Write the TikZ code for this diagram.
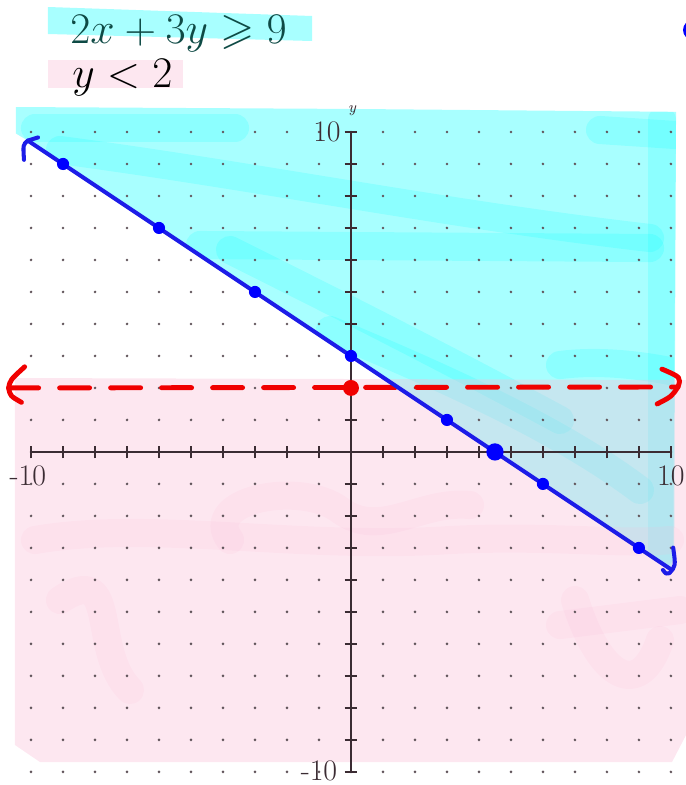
\documentclass[tikz,border=0pt]{standalone}
\usepackage{amssymb}
\usepackage{tikz}
\usetikzlibrary{calc}
\definecolor{hlcyan}{RGB}{0,255,255}
\definecolor{hlpink}{RGB}{250,188,214}
\definecolor{axgray}{HTML}{3B2C33}
\definecolor{ink}{HTML}{0E4A45}
\definecolor{penblue}{RGB}{28,28,232}
\definecolor{penred}{RGB}{240,0,0}

\begin{document}
\begin{tikzpicture}[x=0.64cm,y=0.64cm,
  ax/.style={draw=axgray,line width=1.6pt},
  tk/.style={draw=axgray,line width=1.3pt},
  gdot/.style={fill=axgray!80},
  lbl/.style={font=\fontsize{17}{19}\selectfont,text=axgray,inner sep=0pt},
  bl/.style={draw=penblue,line width=2.3pt,line cap=round,line join=round},
  bdot/.style={fill=blue},
  rd/.style={draw=penred,line width=2.8pt,line cap=round,line join=round},
  cstroke/.style={draw=hlcyan,opacity=0.17,line width=16pt,line cap=round,line join=round},
  pstroke/.style={draw=hlpink,opacity=0.15,line width=16pt,line cap=round,line join=round}]
  \clip (-10.97,-10.41) rectangle (10.47,14.125);
  % shaded regions
  \fill[hlcyan,opacity=0.34] (-10.47,10.78) -- (0,10.72) -- (10.16,10.63) -- (10.1,-3.2) -- (10,-3.67) -- (-10.1,9.73) -- (-10.47,9.95) -- cycle;
  \begin{scope}[shift={(-10.97,14.125)},x=0.02cm,y=-0.02cm]
    % marker strokes (cyan)
    \begin{scope}
      \clip (16,107) -- (676,112) -- (673,560) -- (668,567) -- (28,141) -- (16,136) -- cycle;
      \draw[cstroke] (35,128) -- (235,128);
      \draw[cstroke] (60,150) .. controls (250,175) and (450,215) .. (650,238);
      \draw[cstroke] (200,245) -- (650,248);
      \draw[cstroke] (230,250) .. controls (330,300) and (430,350) .. (560,420);
      \draw[cstroke] (330,330) .. controls (450,380) and (560,430) .. (640,490);
      \draw[cstroke] (662,120) -- (662,555);
      \draw[cstroke] (560,365) .. controls (600,360) and (640,365) .. (675,372);
      \draw[cstroke] (600,130) -- (675,135);
    \end{scope}
    % pink region and strokes
    \fill[hlpink,opacity=0.36] (15,378) -- (686,380) -- (686,735) -- (672,762) -- (40,762) -- (15,745) -- cycle;
    \draw[pstroke] (35,540) .. controls (150,520) and (300,550) .. (450,540) .. controls (550,535) and (620,545) .. (670,540);
    \draw[pstroke] (230,540) .. controls (200,500) and (300,480) .. (340,510) .. controls (380,540) and (420,500) .. (470,505);
    \draw[pstroke] (60,600) .. controls (120,560) and (90,650) .. (130,690);
    \draw[pstroke] (575,600) .. controls (600,680) and (640,700) .. (660,640);
    \draw[pstroke] (560,625) -- (680,610);
    % cut-off dot at the top right
    \fill[blue] (693,30) circle (10);
    % title highlights
    \fill[hlcyan,opacity=0.34] (48,7) -- (312,16) -- (312,41) -- (48,34) -- cycle;
    \fill[hlpink,opacity=0.36] (48,60) -- (183,60) -- (183,88) -- (48,88) -- cycle;
  \end{scope}
  % titles
  \node[anchor=base west,text=ink,inner sep=0pt,font=\fontsize{25}{30}\selectfont] (ineq1) at (-8.78,12.78) {$2x+3y\geqslant 9$};
  \node[anchor=base west,text=black,inner sep=0pt,font=\fontsize{25}{30}\selectfont] (ineq2) at (-8.72,11.4) {$y<2$};
  % dot grid
  \foreach \i in {-10,...,10}
    \foreach \j in {-10,...,10}
      \fill[gdot] (\i,\j) circle (0.045);
  % axes
  \draw[ax] (-10,0) -- (10,0);
  \draw[ax] (0,-10) -- (0,10);
  \foreach \i in {-10,...,10} {
    \draw[tk] (\i,-0.2) -- (\i,0.2);
    \draw[tk] (-0.2,\i) -- (0.2,\i);
  }
  \node[lbl] (ytop) at (-0.75,10) {10};
  \node[lbl,font=\itshape\small] (ylab) at (0.03,10.66) {y};
  \node[lbl] (ybot) at (-1,-9.98) {-10};
  \node[lbl] (xleft) at (-10.1,-0.75) {-10};
  \node[lbl] (xright) at (10,-0.75) {10};
  % y < 2 boundary
  \coordinate (ra) at (-10.7,2);
  \coordinate (rb) at (10.22,2.03);
  \draw[rd,dash pattern=on 0.6cm off 0.42cm] (ra) -- (rb);
  \draw[rd] ($(ra)+(0.5,0.66)$) .. controls ($(ra)+(0.05,0.25)$) .. (ra) .. controls ($(ra)+(0.05,-0.25)$) .. ($(ra)+(0.4,-0.45)$);
  \draw[rd] ($(rb)+(-0.5,0.56)$) .. controls ($(rb)+(0.1,0.3)$) .. (rb) .. controls ($(rb)+(-0.2,-0.3)$) .. ($(rb)+(-0.65,-0.53)$);
  \fill[penred] (0,2) circle (0.25);
  % 2x + 3y = 9 boundary
  \coordinate (bla) at (-10.1,9.73);
  \coordinate (blb) at (10,-3.67);
  \draw[bl] (bla) -- (blb);
  \draw[bl] ($(bla)+(0.32,0.1)$) -- (bla) .. controls ($(bla)+(-0.15,-0.12)$) .. ($(bla)+(-0.12,-0.6)$);
  \draw[bl] ($(blb)+(0.07,0.68)$) .. controls ($(blb)+(0.15,0.1)$) .. ($(blb)+(-0.05,-0.12)$) .. controls ($(blb)+(-0.15,-0.15)$) .. ($(blb)+(-0.25,-0.02)$);
  \foreach \p in {(-9,9),(-6,7),(-3,5),(0,3),(3,1),(6,-1),(9,-3)}
    \fill[bdot] \p circle (0.19);
  \fill[bdot] (4.5,0) circle (0.27);
\end{tikzpicture}
\end{document}
